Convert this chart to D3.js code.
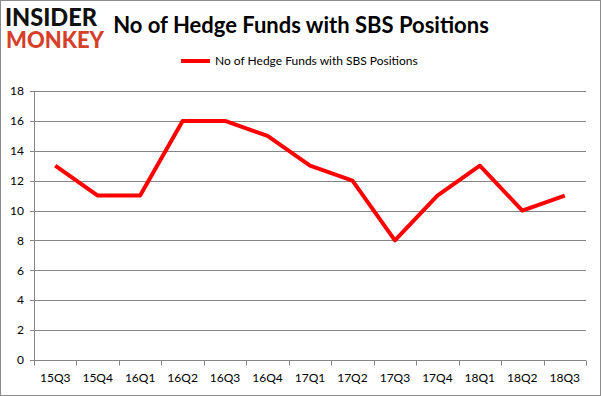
<!DOCTYPE html>
<html>
<head>
<meta charset="utf-8">
<script src="https://cdn.jsdelivr.net/npm/d3@7"></script>
<style>
  body { margin: 0; background: #fff; }
  svg { display: block; }
  text { font-family: Lato, "Open Sans", sans-serif; }
</style>
</head>
<body>
<svg width="601" height="396"></svg>
<script>
// chart data
var quarters = ["15Q3", "15Q4", "16Q1", "16Q2", "16Q3", "16Q4", "17Q1", "17Q2", "17Q3", "17Q4", "18Q1", "18Q2", "18Q3"];
var funds = [13, 11, 11, 16, 16, 15, 13, 12, 8, 11, 13, 10, 11];
var yTicks = [0, 2, 4, 6, 8, 10, 12, 14, 16, 18];
var seriesName = "No of Hedge Funds with SBS Positions";

var svg = d3.select("svg"),
    width = +svg.attr("width"),
    height = +svg.attr("height");

// outer frame
svg.append("rect")
  .attr("x", 0.5).attr("y", 0.5)
  .attr("width", width - 1).attr("height", height - 1)
  .attr("fill", "#fff").attr("stroke", "#8c8c8c");

var plot = { left: 34, right: 586, top: 91, bottom: 360 };

var x = d3.scaleBand().domain(quarters).range([plot.left, plot.right]);
var y = d3.scaleLinear().domain([0, 18]).range([plot.bottom, plot.top]);

// horizontal gridlines (with short tick stubs on the left)
svg.append("g")
  .selectAll("line")
  .data(yTicks)
  .enter().append("line")
    .attr("x1", plot.left - 4).attr("x2", plot.right)
    .attr("y1", function(d) { return Math.round(y(d)) + 0.5; })
    .attr("y2", function(d) { return Math.round(y(d)) + 0.5; })
    .attr("stroke", "#868686").attr("stroke-width", 1);

// y labels
svg.append("g")
  .selectAll("text")
  .data(yTicks)
  .enter().append("text")
    .attr("x", plot.left - 10)
    .attr("y", function(d) { return y(d); })
    .attr("dy", "0.35em")
    .attr("text-anchor", "end")
    .attr("font-size", 12)
    .attr("fill", "#000")
    .text(function(d) { return d; });

// y axis line
svg.append("line")
  .attr("x1", plot.left + 0.5).attr("x2", plot.left + 0.5)
  .attr("y1", plot.top).attr("y2", plot.bottom)
  .attr("stroke", "#868686");

// x axis
var xAxis = svg.append("g")
  .attr("transform", "translate(0," + (Math.round(y(0)) + 0.5) + ")");

xAxis.append("line")
  .attr("x1", plot.left).attr("x2", plot.right)
  .attr("stroke", "#868686");

var edges = quarters.map(function(q) { return x(q); }).concat([plot.right]);
xAxis.selectAll("line.tick")
  .data(edges)
  .enter().append("line")
    .attr("class", "tick")
    .attr("x1", function(d) { return Math.round(d) + 0.5; })
    .attr("x2", function(d) { return Math.round(d) + 0.5; })
    .attr("y1", 0).attr("y2", 5)
    .attr("stroke", "#868686");

xAxis.selectAll("text")
  .data(quarters)
  .enter().append("text")
    .attr("x", function(d) { return x(d) + x.bandwidth() / 2; })
    .attr("y", 21)
    .attr("text-anchor", "middle")
    .attr("font-size", 12)
    .attr("fill", "#000")
    .text(function(d) { return d; });

// the series line
var line = d3.line()
  .x(function(d, i) { return x(quarters[i]) + x.bandwidth() / 2; })
  .y(function(d) { return y(d); });

svg.append("path")
  .datum(funds)
  .attr("d", line)
  .attr("fill", "none")
  .attr("stroke", "#ff0000")
  .attr("stroke-width", 4)
  .attr("stroke-linejoin", "round");

// title
svg.append("text")
  .attr("x", 301).attr("y", 33)
  .attr("text-anchor", "middle")
  .attr("font-size", 22)
  .attr("font-weight", "bold")
  .attr("fill", "#000")
  .text(seriesName);

// legend
svg.append("line")
  .attr("x1", 181).attr("x2", 210)
  .attr("y1", 61).attr("y2", 61)
  .attr("stroke", "#ff0000").attr("stroke-width", 4);

svg.append("text")
  .attr("x", 215).attr("y", 65)
  .attr("font-size", 12)
  .attr("fill", "#000")
  .text(seriesName);

// logo
svg.append("text")
  .attr("x", 5).attr("y", 26)
  .attr("font-size", 24)
  .attr("font-weight", 900)
  .attr("textLength", 92)
  .attr("lengthAdjust", "spacingAndGlyphs")
  .attr("fill", "#111")
  .text("INSIDER");

svg.append("text")
  .attr("x", 6).attr("y", 48)
  .attr("font-size", 23)
  .attr("font-weight", 900)
  .attr("textLength", 98)
  .attr("lengthAdjust", "spacingAndGlyphs")
  .attr("fill", "#d6402a")
  .text("MONKEY");
</script>
</body>
</html>
